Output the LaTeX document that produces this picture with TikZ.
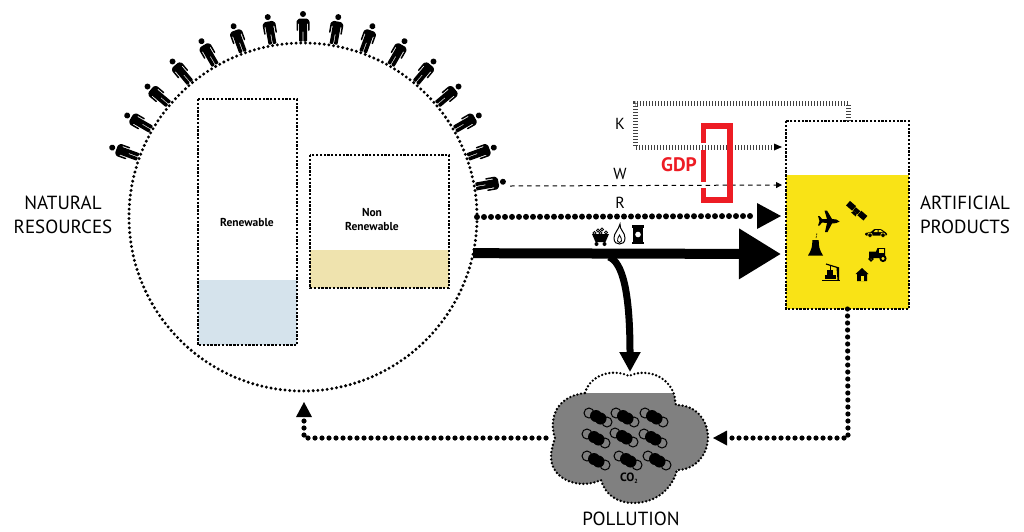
\documentclass[tikz,border=0pt]{standalone}
\usepackage{fontspec}
\setmainfont{PT Sans}
\usetikzlibrary{arrows.meta}
\definecolor{waterblue}{HTML}{D5E3EC}
\definecolor{oilsand}{HTML}{EFE3AE}
\definecolor{goodsyellow}{HTML}{F9E316}
\definecolor{gdpred}{HTML}{ED1C24}
\definecolor{smokegray}{HTML}{808080}
\tikzset{
finedots/.style={line width=2.4pt,dash pattern=on 2.3pt off 1.5pt},
ringdots/.style={line width=3.3pt,line cap=round,dash pattern=on 0pt off 4.7pt},
clouddots/.style={line width=2.6pt,line cap=round,dash pattern=on 0pt off 3.7pt},
flowdots/.style={line width=6pt,line cap=round,dash pattern=on 0pt off 7pt},
loopdots/.style={line width=5.2pt,line cap=round,dash pattern=on 0pt off 7pt},
capital/.style={line width=5pt,black!75,dash pattern=on 1pt off 2pt},
bigtext/.style={font=\fontsize{19}{24}\selectfont,align=center},
flowtext/.style={font=\fontsize{16}{16}\selectfont},
tanktext/.style={font=\bfseries\fontsize{11.5}{14}\selectfont,align=center},
tankbox/.style={draw=none,inner sep=0pt,outer sep=0pt}
}
\newcommand{\drawperson}[1]{%
\begin{scope}[shift={(303,217)},rotate=#1-90]
\fill (0,-203) circle (3);
\fill[rounded corners=0.8pt] (-4,-198.5) -- (4,-198.5) -- (6.5,-196) -- (6.5,-186) -- (5,-186) -- (5,-194) -- (4,-194) -- (4,-175.5) -- (0.4,-175.5) -- (0.4,-186) -- (-0.4,-186) -- (-0.4,-175.5) -- (-4,-175.5) -- (-4,-194) -- (-5,-194) -- (-5,-186) -- (-6.5,-186) -- (-6.5,-196) -- cycle;
\end{scope}
}
\newcommand{\drawmolecule}[2]{%
\begin{scope}[shift={(#1,#2)}]
\draw[fill=smokegray,line width=1pt] (-9,-4) circle (5);
\draw[fill=smokegray,line width=1pt] (9,5) circle (5);
\fill (-2,-1) circle (6);
\fill (2.5,1.5) circle (6);
\end{scope}
}
\newcommand{\cloudpath}{(585,393) .. controls (590,375) and (612,368) .. (629,376) .. controls (645,368) and (670,375) .. (675,398) .. controls (675,401) and (675,403) .. (676,405) .. controls (700,405) and (708,425) .. (708,437) .. controls (708,455) and (695,470) .. (677,470) .. controls (672,490) and (655,503) .. (633,503) .. controls (618,503) and (605,495) .. (601,480) .. controls (580,490) and (551,480) .. (551,457) .. controls (551,450) and (553,444) .. (555,438) .. controls (550,425) and (551,397) .. (585,393)}

\begin{document}
\begin{tikzpicture}[x=1pt,y=-1pt]
\useasboundingbox (0,0) rectangle (1024,531);

% resources
\node[tankbox,minimum size=348pt,circle] (resources) at (303,217) {};
\draw[ringdots] (303,217) circle (174);

\drawperson{10}
\drawperson{20}
\drawperson{30}
\drawperson{40}
\drawperson{50}
\drawperson{60}
\drawperson{70}
\drawperson{80}
\drawperson{90}
\drawperson{100}
\drawperson{110}
\drawperson{120}
\drawperson{130}
\drawperson{140}
\drawperson{150}
\drawperson{160}

\fill[waterblue] (198,280) rectangle (297,345);
\fill[oilsand] (310,250) rectangle (449,288);
\draw[finedots] (198,99) rectangle (297,345);
\draw[finedots] (310,155) rectangle (449,288);
\node[tanktext] (renewable) at (247,222) {Renewable};
\node[tanktext] (nonrenewable) at (372,220) {Non\\Renewable};

% products
\fill[goodsyellow] (786,175) rectangle (909,309);
\node[tankbox,minimum width=123pt,minimum height=188pt] (products) at (847.5,215) {};
\draw[finedots] (786,121) rectangle (909,309);

% cloud
\begin{scope}
\clip (540,393) rectangle (720,510);
\fill[smokegray] \cloudpath;
\end{scope}
\draw[clouddots] \cloudpath;
\node[tankbox,minimum width=150pt,minimum height=125pt] (cloud) at (630,437) {};

\drawmolecule{598}{417}
\drawmolecule{625}{417}
\drawmolecule{654}{417}
\drawmolecule{596}{438}
\drawmolecule{624}{437}
\drawmolecule{653}{438}
\drawmolecule{596}{460}
\drawmolecule{628}{460}
\drawmolecule{657}{460}

\node[inner sep=0pt,font=\bfseries\fontsize{12}{12}\selectfont] (co2) at (629,478) {CO\raisebox{-2.5pt}{\fontsize{6}{6}\selectfont 2}};

% flows
\coordinate (ktip) at (782,147);
\coordinate (wstart) at (510,186);
\coordinate (wtip) at (782,185);
\coordinate (rtip) at (781,216);
\coordinate (bigstart) at (resources.-12.3);
\coordinate (bigtip) at (781,254);
\coordinate (smoketip) at (630,372);
\coordinate (backtip) at (713,438);
\coordinate (uptip) at (304,402);

\draw[capital] (848,121) -- (848,103) -- (635,103) -- (635,147) -- (774,147);
\fill (774,143.5) -- (ktip) -- (774,150.5) -- cycle;
\draw[line width=1pt,dash pattern=on 4.5pt off 4pt,-{Triangle[length=6pt,width=6pt]}] (wstart) -- (wtip);
\draw[flowdots] (resources.east) -- (755,216);
\fill (757,203) -- (rtip) -- (757,229) -- cycle;
\draw[line width=10pt,-{Triangle[length=42pt,width=48pt]}] (bigstart) -- (bigtip);
\draw[line width=7pt,-{Triangle[length=20pt,width=20pt]}] (609,257) .. controls (622,262) and (630,290) .. (smoketip);
\draw[loopdots] (products.south) -- (848,438) -- (729,438);
\fill (727,430.5) -- (backtip) -- (727,445.5) -- cycle;
\draw[loopdots] (546,438) -- (304,438) -- (304,420);
\fill (296,417) -- (uptip) -- (312,417) -- cycle;

% gdp
\draw[gdpred,line width=5.5pt] (703.7,143) -- (703.7,125.8) -- (730.2,125.8) -- (730.2,200.2) -- (703.7,200.2) -- (703.7,188);
\draw[gdpred,line width=5.5pt] (703.7,150) -- (703.7,182);
\node[text=gdpred,font=\bfseries\fontsize{19.5}{20}\selectfont,inner sep=0pt] (gdp) at (679,165) {GDP};

\node[flowtext] (klabel) at (620,124) {K};
\node[flowtext] (wlabel) at (620,174) {W};
\node[flowtext] (rlabel) at (620,203) {R};

\node[bigtext] (natural) at (63,215) {NATURAL\\RESOURCES};
\node[bigtext] (artificial) at (965,215) {ARTIFICIAL\\PRODUCTS};
\node[bigtext] (pollution) at (631,518.5) {POLLUTION};

% cart
\begin{scope}[shift={(600.5,237)}]
\fill (-8.5,-3) -- (8.5,-3) -- (5,5) -- (-5,5) -- cycle;
\fill (-4,7) circle (2);
\fill (4,7) circle (2);
\draw[fill=black!30,line width=0.7pt] (-6,-4) circle (1.7);
\draw[fill=black!30,line width=0.7pt] (-2.5,-6.5) circle (1.7);
\draw[fill=black!30,line width=0.7pt] (1.5,-7.5) circle (1.7);
\draw[fill=black!30,line width=0.7pt] (5.5,-4.5) circle (1.7);
\draw[fill=black!30,line width=0.7pt] (0,-4) circle (1.7);
\end{scope}

% flame
\begin{scope}[shift={(619.5,234)}]
\draw[line width=1pt,fill=white] (0.5,-10) .. controls (0,-4) and (5.5,-2) .. (5.5,4) .. controls (5.5,8.5) and (3,10) .. (0,10) .. controls (-3,10) and (-5.5,8.5) .. (-5.5,4) .. controls (-5.5,-1) and (-1,-4) .. (0.5,-10) -- cycle;
\draw[line width=0.8pt] (0,1) .. controls (1,3) and (2.5,5) .. (2,7) .. controls (1.5,9) and (-1.5,9) .. (-2,7) .. controls (-2.5,5) and (-1,3) .. (0,1) -- cycle;
\end{scope}

% barrel
\begin{scope}[shift={(638,234.5)}]
\fill (-5.8,-9.5) rectangle (5.8,-7);
\fill (-5.8,7) rectangle (5.8,9.5);
\fill (-4.6,-9.5) rectangle (4.6,9.5);
\fill[white] (0,0) circle (2.8);
\end{scope}

% plane
\begin{scope}[shift={(829,221)}]
\fill (10.5,0.5) .. controls (9,-1.5) and (6,-2) .. (3,-2) -- (-2,-10.5) -- (-4.5,-10.5) -- (-2,-2) -- (-7,-2) -- (-9.5,-5) -- (-11,-5) -- (-9.5,0) -- (-11,4.5) -- (-9.5,4.5) -- (-7,1.5) -- (-2,2) -- (-4,11) -- (-1.5,11) -- (3,2.5) .. controls (6,2.5) and (9,2) .. (10.5,0.5) -- cycle;
\end{scope}

% satellite
\begin{scope}[shift={(856.7,210.7)},rotate=-41]
\fill (-11.5,-3) rectangle (-3.5,3);
\fill (3.5,-3) rectangle (11.5,3);
\fill (-3,-2) rectangle (3,2);
\fill (-2,2) -- (2,2) -- (3,5) -- (-3,5) -- cycle;
\end{scope}

% car
\begin{scope}[shift={(876,233)}]
\fill[rounded corners=1pt] (-11,2.5) -- (-11,0) -- (-5,-1) -- (-2,-4) -- (5,-4) -- (9,-1) -- (11,0) -- (11,2.5) -- cycle;
\fill[goodsyellow] (-2.5,-1) -- (-0.5,-3) -- (1.5,-3) -- (1.5,-1) -- cycle;
\fill[goodsyellow] (2.5,-1) -- (2.5,-3) -- (4.5,-3) -- (7,-1) -- cycle;
\draw[fill=black,draw=goodsyellow,line width=0.6pt] (-6,2.2) circle (2.3);
\draw[fill=black,draw=goodsyellow,line width=0.6pt] (7,2.2) circle (2.3);
\end{scope}

% tractor
\begin{scope}[shift={(877,255)}]
\fill (-8,-3.5) -- (-1,-3.5) -- (0.5,-7) -- (8,-7) -- (8,3) -- (-8,3) -- cycle;
\fill[goodsyellow] (2,-6) rectangle (6.5,-2.5);
\draw[fill=goodsyellow,line width=1.8pt] (6,3.5) circle (2.6);
\draw[fill=goodsyellow,line width=1.5pt] (-6,4) circle (1.8);
\end{scope}

% house
\begin{scope}[shift={(862,275)}]
\fill (-6.5,-1) -- (0,-7) -- (6.5,-1) -- (5,-1) -- (5,6) -- (-5,6) -- (-5,-1) -- cycle;
\fill[goodsyellow] (-1.5,1) rectangle (1.5,6);
\end{scope}

% crane
\begin{scope}[shift={(831,272)}]
\fill (-9,7.5) rectangle (9,8.7);
\fill (-6.5,3) rectangle (-1.3,7.2);
\fill (-0.7,3) rectangle (4.5,7.2);
\fill (-4,-2) rectangle (1.5,2.5);
\draw[line width=1.2pt] (-5,-8) -- (8,-4);
\fill (5.5,-4) -- (8,-4) -- (8,8) -- (6.5,8) -- cycle;
\draw[line width=0.7pt] (-1,-6.5) -- (-1,-2);
\end{scope}

% tower
\begin{scope}[shift={(815.5,248)}]
\fill (-3.2,-8) .. controls (-3,-2) and (-4,2) .. (-7.5,7.5) -- (7.5,7.5) .. controls (4,2) and (3,-2) .. (3.2,-8) -- cycle;
\draw[line width=0.6pt,dash pattern=on 2pt off 0.8pt] (0.5,-10) -- (1.5,-15);
\end{scope}

\end{tikzpicture}
\end{document}
